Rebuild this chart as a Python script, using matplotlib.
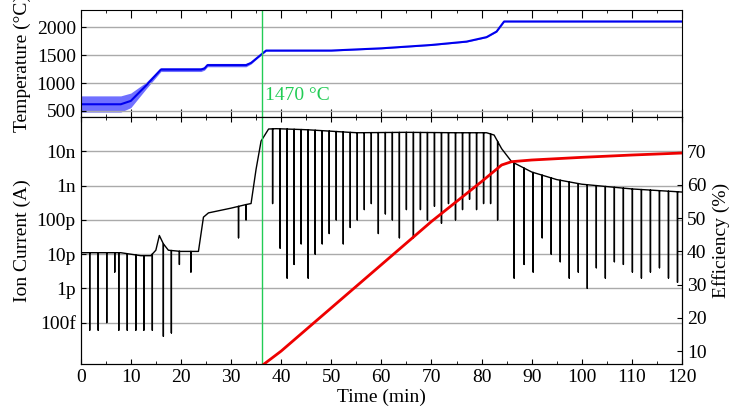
import matplotlib
matplotlib.use("Agg")
import matplotlib.pyplot as plt
import numpy as np

plt.rcParams["font.family"] = "Liberation Serif"
plt.rcParams["font.size"] = 14

# temperature (centre line and band)
temp_t = [0, 8, 10, 13, 16, 24, 24.7, 25.3, 33, 34, 35.5, 37, 50, 60, 70, 77, 81, 83, 84.5, 120]
temp_c = [620, 620, 680, 950, 1240, 1240, 1260, 1320, 1320, 1360, 1470, 1580, 1580, 1620, 1680, 1740, 1820, 1920, 2100, 2100]
temp_lo = [480, 480, 560, 890, 1205, 1205, 1230, 1290, 1290, 1340, 1460, 1570, 1572, 1612, 1672, 1732, 1812, 1912, 2092, 2092]
temp_hi = [770, 770, 820, 1010, 1275, 1275, 1290, 1350, 1350, 1380, 1480, 1590, 1588, 1628, 1688, 1748, 1828, 1928, 2108, 2108]

# ion current baseline (A)
ion_t = [0, 8, 12, 14, 15, 15.7, 16.5, 17.5, 20, 23.5, 24.5, 25.5, 30, 33, 34, 35, 36, 37.5, 39, 45, 55, 65, 75, 81, 82.5, 84, 86, 90, 95, 100, 110, 120]
ion_v = [1.1e-11, 1.1e-11, 9e-12, 9e-12, 1.3e-11, 3.5e-11, 2e-11, 1.3e-11, 1.2e-11, 1.2e-11, 1.2e-10, 1.6e-10, 2.2e-10, 2.8e-10, 3e-10, 3e-9, 2e-8, 4.5e-8, 4.6e-8, 4.3e-8, 3.5e-8, 3.6e-8, 3.5e-8, 3.5e-8, 3e-8, 1.2e-8, 5e-9, 2.5e-9, 1.5e-9, 1.1e-9, 8e-10, 6.5e-10]

# dips (time, minimum current)
dip_t = [1.8, 3.5, 5.2, 6.8, 7.6, 9.3, 11.0, 12.6, 14.3, 16.5, 18.1, 19.7, 22.0, 31.5, 33.0,
         38.3, 39.8, 41.2, 42.6, 44.0, 45.4, 46.8, 48.2, 49.6, 51.0, 52.4, 53.8, 55.2, 56.6, 58.0,
         59.4, 60.8, 62.2, 63.6, 65.0, 66.4, 67.8, 69.2, 70.6, 72.0, 73.4, 74.8, 76.2, 77.6, 79.0,
         80.4, 81.8, 83.2, 86.5, 88.5, 90.3, 92.1, 93.9, 95.7, 97.5, 99.3, 101.1, 102.9, 104.7,
         106.5, 108.3, 110.1, 111.9, 113.7, 115.5, 117.3, 119.1]
dip_v = [6e-14, 6e-14, 1e-13, 3e-12, 6e-14, 6e-14, 6e-14, 6e-14, 6e-14, 4e-14, 5e-14, 5e-12, 3e-12, 3e-11, 1e-10,
         3e-10, 1.5e-11, 2e-12, 5e-12, 2e-11, 2e-12, 1e-11, 2e-11, 4e-11, 1e-10, 2e-11, 6e-11, 1e-10, 2e-10, 3e-10,
         4e-11, 1.5e-10, 1e-10, 3e-11, 2e-10, 3e-11, 2e-10, 1e-10, 2.5e-10, 8e-11, 3e-10, 1e-10, 2e-10, 4e-10, 2e-10,
         3e-10, 3e-10, 1e-10, 2e-12, 5e-12, 3e-12, 3e-11, 1e-11, 6e-12, 2e-12, 3e-12, 1e-12, 4e-12, 2e-12,
         6e-12, 5e-12, 3e-12, 2e-12, 3e-12, 4e-12, 2e-12, 1.5e-12]

# efficiency (%)
eff_t = [36.5, 40, 50, 60, 70, 80, 84, 86, 90, 100, 110, 120]
eff_v = [6, 10, 23, 36, 49, 61, 66, 67, 67.5, 68.3, 69, 69.6]

fig = plt.figure(figsize=(7.47, 4.11), dpi=100)
ax1 = fig.add_axes([0.108, 0.715, 0.805, 0.26])
ax2 = fig.add_axes([0.108, 0.115, 0.805, 0.60], sharex=ax1)

ax1.fill_between(temp_t, temp_lo, temp_hi, color="#3333ff", alpha=0.7, lw=0)
ax1.plot(temp_t, temp_c, color="#0000ee", lw=1.5)
ax1.set_ylim(390, 2300)
ax1.set_yticks([500, 1000, 1500, 2000])
ax1.set_ylabel("Temperature (°C)")
ax1.axvline(36.2, color="#22cc55", lw=1)
ax1.text(36.8, 700, "1470 °C", color="#22cc55")

# build ion series with dips
xs, ys = [], []
base = lambda t: 10 ** np.interp(t, ion_t, np.log10(ion_v))
pts = sorted(set(ion_t) | set(dip_t))
for t in pts:
    if t in dip_t:
        v = dip_v[dip_t.index(t)]
        b = base(t)
        xs += [t, t, t]
        ys += [b, v, b]
    else:
        xs.append(t)
        ys.append(base(t))
ax2.semilogy(xs, ys, color="black", lw=1)
ax2.set_ylim(6.3e-15, 1e-7)
dec = [1e-13, 1e-12, 1e-11, 1e-10, 1e-9, 1e-8]
ax2.set_yticks(dec)
ax2.set_yticklabels(["100f", "1p", "10p", "100p", "1n", "10n"])
ax2.set_ylabel("Ion Current (A)")
ax2.set_xlabel("Time (min)", labelpad=2)
ax2.axvline(36.2, color="#22cc55", lw=1)

ax3 = ax2.twinx()
ax3.plot(eff_t, eff_v, color="#ee0000", lw=2)
ax3.set_ylim(6.2, 80.4)
ax3.set_yticks([10, 20, 30, 40, 50, 60, 70])
ax3.set_ylabel("Efficiency (%)")

for a in (ax1, ax2):
    a.set_xlim(0, 120)
    a.grid(axis="y", color="#aaaaaa", lw=1)
    a.tick_params(direction="in", top=True, which="both")
ax2.set_xticks(range(0, 121, 10))
ax2.set_xticks(range(0, 121, 5), minor=True)
ax3.tick_params(direction="in")
plt.setp(ax1.get_xticklabels(), visible=False)
ax1.tick_params(axis="x", length=6)

fig.savefig("out.png", dpi=100)
